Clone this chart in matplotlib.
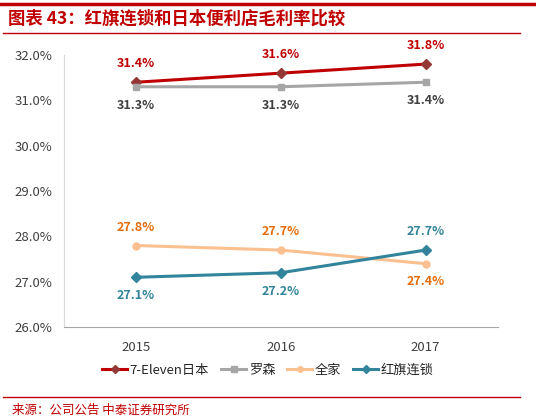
import matplotlib
matplotlib.use('Agg')
import matplotlib.pyplot as plt
from matplotlib.lines import Line2D

plt.rcParams['font.family'] = ['Noto Sans CJK SC', 'DejaVu Sans']

#%% data
years = ['2015', '2016', '2017']
seven = [31.4, 31.6, 31.8]
lawson = [31.3, 31.3, 31.4]
family = [27.8, 27.7, 27.4]
hongqi = [27.1, 27.2, 27.7]
yticks = [26.0, 27.0, 28.0, 29.0, 30.0, 31.0, 32.0]

names = ['7-Eleven日本', '罗森', '全家', '红旗连锁']
line_colors = ['#C00000', '#A6A6A6', '#FAC090', '#31849B']
mk_colors = ['#953735', '#A6A6A6', '#FAC090', '#31849B']
markers = ['D', 's', 'o', 'D']
lbl_colors = ['#C00000', '#404040', '#E46C0A', '#31849B']
# +1 label above, -1 below
lbl_pos = [[1, 1, 1], [-1, -1, -1], [1, 1, -1], [-1, -1, 1]]

#%% figure
fig = plt.figure(figsize=(5.36, 4.20), dpi=100)
ax = fig.add_axes([0.119, 0.221, 0.81, 0.648])

x = list(range(len(years)))
for s, nm, lc, mc, mk, tc, pos in zip([seven, lawson, family, hongqi], names,
                                       line_colors, mk_colors, markers,
                                       lbl_colors, lbl_pos):
    ax.plot(x, s, color=lc, lw=2.2, marker=mk, ms=5, mfc=mc, mec=mc,
            label=nm, zorder=3)
    for xi, v, p in zip(x, s, pos):
        ax.annotate('%.1f%%' % v, (xi, v), xytext=(0, 8.5 * p),
                    textcoords='offset points', ha='center',
                    va='bottom' if p > 0 else 'top', fontsize=9,
                    fontweight='bold', color=tc)

ax.set_xlim(-0.5, 2.5)
ax.set_ylim(26.0, 32.0)
ax.set_yticks(yticks)
ax.set_yticklabels(['%.1f%%' % t for t in yticks])
ax.set_xticks(x)
ax.set_xticklabels(years)
ax.tick_params(length=0, labelsize=9.5, colors='#404040', pad=8)
ax.tick_params(axis='x', pad=10)
for sp in ['top', 'right']:
    ax.spines[sp].set_visible(False)
ax.spines['left'].set_color('#D9D9D9')
ax.spines['bottom'].set_color('#A6A6A6')

handles = [Line2D([0], [0], color=lc, lw=2.2, marker=mk, ms=4, mfc=mc, mec=mc)
           for lc, mc, mk in zip(line_colors, mk_colors, markers)]
fig.legend(handles, names, loc='center', bbox_to_anchor=(0.5, 0.118), ncol=4,
           frameon=False, fontsize=9.5, handlelength=1.9, columnspacing=0.9,
           handletextpad=0.2, labelcolor='#262626')

#%% header / footer
fig.add_artist(Line2D([0, 1], [1 - 4 / 420, 1 - 4 / 420], color='#C00000', lw=2.5))
fig.add_artist(Line2D([0.005, 0.97], [1 - 33 / 420, 1 - 33 / 420], color='#C00000', lw=1))
fig.add_artist(Line2D([0.005, 0.97], [1 - 397 / 420, 1 - 397 / 420], color='#C00000', lw=1))
fig.text(0.015, 1 - 19 / 420, '图表 43：红旗连锁和日本便利店毛利率比较', color='#C00000',
         fontsize=12.5, fontweight='bold', va='center', style='italic')
fig.text(0.022, 1 - 410 / 420, '来源：公司公告 中泰证券研究所', color='#C00000',
         fontsize=9, va='center')

fig.savefig('out.png', dpi=100)
